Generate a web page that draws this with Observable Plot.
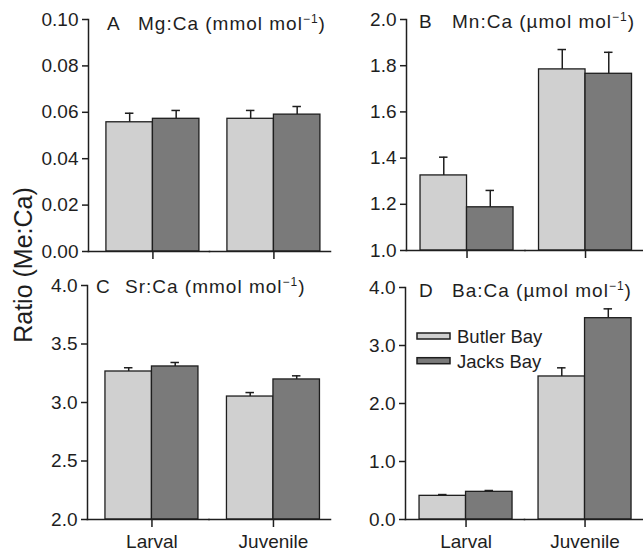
<!DOCTYPE html>
<html><head><meta charset="utf-8">
<script src="https://cdn.jsdelivr.net/npm/d3@7"></script>
<script src="https://cdn.jsdelivr.net/npm/@observablehq/plot@0.6"></script>
<style>
html,body{margin:0;padding:0;background:#fff;}
#chart{position:relative;width:643px;height:555px;font-family:"Liberation Sans",Arial,Helvetica,sans-serif;color:#222;}
#chart > svg{position:absolute;overflow:visible;}
</style></head><body><div id="chart"></div>
<script>
// ---- data ----
const categories = ["Larval", "Juvenile"];
const sites = ["Butler Bay", "Jacks Bay"];
const siteColors = ["#d0d0d0", "#7a7a7a"];

// rows: categories (Larval, Juvenile); columns: sites (Butler Bay, Jacks Bay)
const mgMean = [[0.0557, 0.0572], [0.0572, 0.0590]];
const mgSE   = [[0.0039, 0.0036], [0.0036, 0.0035]];
const mnMean = [[1.325, 1.187], [1.784, 1.765]];
const mnSE   = [[0.079, 0.073], [0.086, 0.093]];
const srMean = [[3.265, 3.308], [3.051, 3.197]];
const srSE   = [[0.032, 0.034], [0.034, 0.031]];
const baMean = [[0.408, 0.477], [2.466, 3.471]];
const baSE   = [[0.022, 0.023], [0.149, 0.161]];

const mgTicks = [0, 0.02, 0.04, 0.06, 0.08, 0.10];
const mnTicks = [1.0, 1.2, 1.4, 1.6, 1.8, 2.0];
const srTicks = [2.0, 2.5, 3.0, 3.5, 4.0];
const baTicks = [0, 1, 2, 3, 4];

const panelLetters = ["A", "B", "C", "D"];
const panelTitles = ["Mg:Ca (mmol mol", "Mn:Ca (µmol mol", "Sr:Ca (mmol mol", "Ba:Ca (µmol mol"];
const yTitle = "Ratio (Me:Ca)";

function rows(mean, se) {
  return categories.flatMap((c, i) => sites.map((s, j) => ({cat: c, site: s, mean: mean[i][j], se: se[i][j]})));
}

const ink = "#1e1e1e";
const FONT = '"Liberation Sans", Arial, Helvetica, sans-serif';
const chart = document.getElementById("chart");
const BAR_W = 46.5;

function panel(cfg) {
  const data = rows(cfg.mean, cfg.se);
  const y0 = cfg.ticks[0], y1 = cfg.ticks[cfg.ticks.length - 1];
  const facetW = (cfg.w - cfg.ml) / categories.length;
  const po = (facetW / BAR_W - sites.length) / 2;
  const leftover = facetW - BAR_W * sites.length;
  const svg = Plot.plot({
    width: cfg.w, height: cfg.h,
    marginLeft: cfg.ml, marginRight: 0, marginTop: cfg.mt, marginBottom: cfg.mb,
    style: {background: "transparent", fontFamily: FONT, fontSize: "19px", color: ink, overflow: "visible"},
    fx: {domain: categories, padding: 0, round: false, axis: null, label: null},
    x: {domain: sites, paddingInner: 0, paddingOuter: po, align: cfg.align, round: false, axis: null},
    y: {domain: [y0, y1], axis: null},
    color: {domain: sites, range: siteColors},
    marks: [
      Plot.barY(data, {fx: "cat", x: "site", y1: () => y0, y2: "mean", fill: "site", stroke: ink, strokeWidth: 1.3}),
      Plot.ruleX(data, {fx: "cat", x: "site", y1: "mean", y2: d => d.mean + d.se, stroke: ink, strokeWidth: 1.5}),
      Plot.tickY(data, {fx: "cat", x: "site", y: d => d.mean + d.se, insetLeft: 19, insetRight: 19, stroke: ink, strokeWidth: 1.5}),
      Plot.frame({anchor: "bottom", stroke: ink, strokeWidth: 1.5}),
      Plot.frame({anchor: "left", facetAnchor: "left", stroke: ink, strokeWidth: 1.5}),
      Plot.axisY({ticks: cfg.ticks, tickFormat: cfg.fmt, tickSize: 6, tickPadding: 4, label: null,
                  stroke: ink, strokeWidth: 1.5, fontSize: 19, fill: ink}),
      Plot.axisFx({anchor: "bottom", tickSize: 8, tickPadding: 7, label: null, stroke: ink, strokeWidth: 1.5,
                   fontSize: 19, fill: ink,
                   dx: (cfg.align - 0.5) * leftover,
                   tickFormat: cfg.labels ? (d => d) : (() => "")})
    ]
  });
  svg.style.left = cfg.left + "px";
  svg.style.top = cfg.top + "px";
  chart.appendChild(svg);
}

panel({mean: mgMean, se: mgSE, ticks: mgTicks, fmt: d3.format(".2f"), left: 0, top: 0, w: 330, h: 265, ml: 88, mt: 19, mb: 14, align: 0.64, labels: false});
panel({mean: mnMean, se: mnSE, ticks: mnTicks, fmt: d3.format(".1f"), left: 330, top: 0, w: 313, h: 265, ml: 76, mt: 19, mb: 15, align: 0.55, labels: false});
panel({mean: srMean, se: srSE, ticks: srTicks, fmt: d3.format(".1f"), left: 0, top: 265, w: 330, h: 290, ml: 87, mt: 20, mb: 36, align: 0.63, labels: true});
panel({mean: baMean, se: baSE, ticks: baTicks, fmt: d3.format(".1f"), left: 330, top: 265, w: 313, h: 290, ml: 75, mt: 22, mb: 36, align: 0.54, labels: true});

// ---- overlay: panel titles, y title, legend ----
const ov = d3.select(chart).append("svg")
  .attr("width", 643).attr("height", 555)
  .style("left", "0px").style("top", "0px")
  .style("font-family", FONT).attr("fill", ink);

const titlePos = [[107, 138, 30], [419, 452, 28], [96, 125, 293], [419, 452, 297]];
panelLetters.forEach((L, i) => {
  const [xl, xt, yb] = titlePos[i];
  ov.append("text").attr("x", xl).attr("y", yb).attr("font-size", 19).text(L);
  const t = ov.append("text").attr("x", xt).attr("y", yb).attr("font-size", 19).attr("letter-spacing", "1px");
  t.append("tspan").text(panelTitles[i]);
  t.append("tspan").attr("font-size", 12).attr("dy", -7).text("−1");
  t.append("tspan").attr("dy", 7).text(")");
});

ov.append("text").attr("transform", "translate(32,265) rotate(-90)")
  .attr("text-anchor", "middle").attr("font-size", 25).text(yTitle);

const leg = ov.append("g");
sites.forEach((s, i) => {
  leg.append("rect").attr("x", 417).attr("y", 333 + i * 24.7).attr("width", 33).attr("height", 6)
    .attr("fill", siteColors[i]).attr("stroke", ink).attr("stroke-width", 1.5);
  leg.append("text").attr("x", 457).attr("y", 343 + i * 25).attr("font-size", 18.5).text(s);
});
</script></body></html>
